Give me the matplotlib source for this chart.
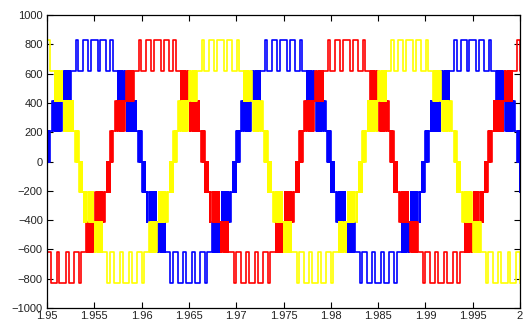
import numpy as np
import matplotlib
matplotlib.use("Agg")
import matplotlib.pyplot as plt

# one quarter wave of the phase voltage
# (time in ms after the rising zero crossing, level index after the switch)
quarter_t_ms = [0.00, 0.05, 0.09, 0.14, 0.18, 0.23, 0.27, 0.32, 0.36,
                0.55, 0.61, 0.76, 0.84,
                0.95, 1.00, 1.05, 1.11, 1.16, 1.23, 1.28, 1.36, 1.41, 1.50, 1.54,
                1.70, 1.76, 1.88, 1.95,
                2.05, 2.10, 2.16, 2.22, 2.27, 2.34, 2.39, 2.47, 2.51,
                3.05, 3.30, 3.80, 4.35, 4.65]
quarter_level = [1, 0, 1, 0, 1, 0, 1, 0, 1,
                 2, 1, 2, 1,
                 2, 1, 2, 1, 2, 1, 2, 1, 2, 1, 2,
                 3, 2, 3, 2,
                 3, 2, 3, 2, 3, 2, 3, 2, 3,
                 4, 3, 4, 3, 4]

step_volts = 207.0          # one cell voltage
period_ms = 20.0
phase_names = ["a", "b", "c"]
phase_colors = ["#0000ff", "#ff0000", "#ffff00"]
phase_delay_ms = [0.0, 20.0 / 3, 40.0 / 3]   # blue, red, yellow
t_start = 1.95                                # blue rising zero crossing

xticks = [1.95, 1.955, 1.96, 1.965, 1.97, 1.975, 1.98, 1.985, 1.99, 1.995, 2.0]
xlabels = ["1.95", "1.955", "1.96", "1.965", "1.97", "1.975", "1.98",
           "1.985", "1.99", "1.995", "2"]
yticks = list(range(-1000, 1001, 200))


def one_period():
    # segments of the first quarter
    t = list(quarter_t_ms)
    lv = list(quarter_level)
    ends = t[1:] + [5.0]
    segs = list(zip(t, ends, lv))
    # second quarter is the mirror image
    mirror = [(10.0 - b, 10.0 - a, l) for a, b, l in reversed(segs)]
    half = segs + mirror
    neg = [(a + 10.0, b + 10.0, -l) for a, b, l in half]
    full = half + neg
    ts = np.array([s[0] for s in full])
    ls = np.array([s[2] for s in full])
    return ts, ls


base_t, base_l = one_period()

fig = plt.figure(figsize=(5.27, 3.24), dpi=100)
ax = fig.add_axes([47 / 527, 16 / 324, 473 / 527, 293 / 324])

for name, col, delay in zip(phase_names, phase_colors, phase_delay_ms):
    tt = []
    ll = []
    for k in range(-2, 4):
        tt.append(base_t + k * period_ms + delay)
        ll.append(base_l)
    tt = np.concatenate(tt) / 1000.0 + t_start
    ll = np.concatenate(ll) * step_volts
    ax.step(tt, ll, where="post", color=col, linewidth=1.2)

ax.set_xlim(1.95, 2.0)
ax.set_ylim(-1000, 1000)
ax.set_xticks(xticks)
ax.set_xticklabels(xlabels)
ax.set_yticks(yticks)
ax.tick_params(direction="in", top=True, right=True, length=4, width=0.8,
               labelsize=8, pad=2)
ax.tick_params(axis="y", pad=3)
for lab in ax.get_xticklabels() + ax.get_yticklabels():
    lab.set_fontfamily("Liberation Sans")
    lab.set_color("#222222")
for sp in ax.spines.values():
    sp.set_linewidth(0.9)

fig.savefig("out.png", dpi=100)
